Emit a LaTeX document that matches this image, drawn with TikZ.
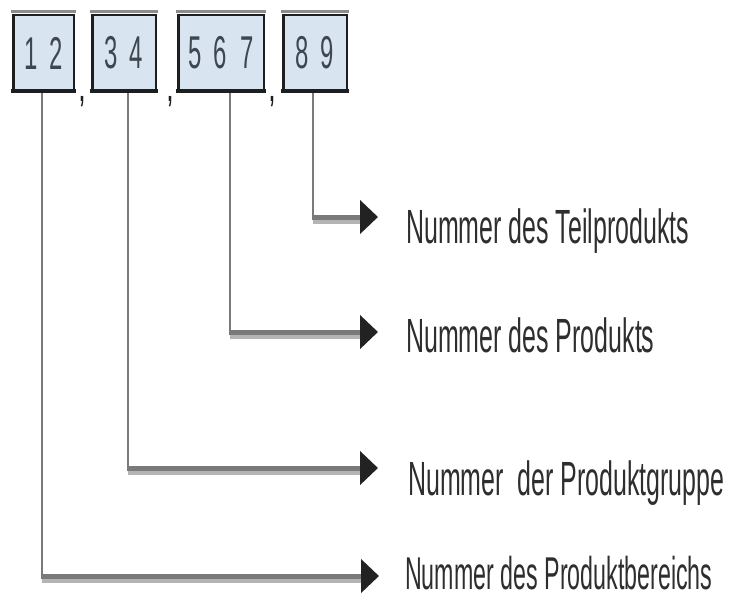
\documentclass[tikz,border=0pt]{standalone}
\usepackage{fontspec}
\setmainfont{Liberation Sans}
\newfontfamily\narrowfont[FakeStretch=0.52]{Liberation Sans}
\newfontfamily\narrowerfont[FakeStretch=0.505]{Liberation Sans}
\usetikzlibrary{arrows.meta}
\definecolor{boxfill}{HTML}{D8E4F0}
\definecolor{boxline}{HTML}{1E1E1E}
\definecolor{topband}{HTML}{8C8C8C}
\definecolor{digitcol}{HTML}{3E4650}
\definecolor{labelcol}{HTML}{2E2E2E}
\definecolor{linegray}{HTML}{7A7A7A}
\definecolor{shadegray}{HTML}{B4B4B4}
\definecolor{tipdark}{HTML}{222222}
\begin{document}
\begin{tikzpicture}[x=1pt,y=-1pt,
  digitbox/.style={draw=boxline, line width=2.5pt, fill=boxfill,
    minimum height=76pt, inner sep=0pt, text=digitcol,
    font=\narrowfont\fontsize{46}{46}\selectfont},
  topedge/.style={draw=topband, line width=3.5pt},
  bottomedge/.style={draw=boxline, line width=4pt},
  vline/.style={draw=linegray, line width=2.5pt},
  hline/.style={draw=linegray, line width=5pt,
    -{Triangle[length=18pt,width=33pt,color=tipdark]}},
  hshade/.style={draw=shadegray, line width=4pt},
  lbl/.style={inner sep=0pt, text=labelcol,
    font=\narrowfont\fontsize{48}{48}\selectfont},
  comma/.style={inner sep=0pt, text=boxline,
    font=\narrowfont\bfseries\fontsize{34}{34}\selectfont}]
\useasboundingbox (0,0) rectangle (738,598);

% number fields
\node[digitbox, minimum width=60.5pt] (b1) at (43.5,53) {\raisebox{-3pt}{1\hspace{12pt}2}};
\node[digitbox, minimum width=63.5pt] (b2) at (124,53) {\raisebox{-3pt}{3\hspace{12pt}4}};
\node[digitbox, minimum width=85.5pt] (b3) at (221,53) {\raisebox{-3pt}{5\hspace{12pt}6\hspace{14pt}7}};
\node[digitbox, minimum width=63.5pt] (b4) at (315,53) {\raisebox{-3pt}{8\hspace{12pt}9}};
\foreach \b in {b1,b2,b3,b4}{
  \draw[topedge] ([xshift=-1.25pt,yshift=2.25pt]\b.north west) -- ([xshift=1.25pt,yshift=2.25pt]\b.north east);
  \draw[bottomedge] ([xshift=-1.25pt,yshift=1pt]\b.south west) -- ([xshift=1.25pt,yshift=1pt]\b.south east);
}

% separators
\node[comma] (s1) at (82,102) {,};
\node[comma] (s2) at (170,102) {,};
\node[comma] (s3) at (272,102) {,};

% labels
\node[lbl, anchor=base west] (l4) at (406,243) {Nummer des Teilprodukts};
\node[lbl, anchor=base west] (l3) at (406,352) {Nummer des Produkts};
\node[lbl, anchor=base west] (l2) at (408,495) {Nummer\ \ der Produktgruppe};
\node[lbl, anchor=base west, font=\narrowerfont\fontsize{46}{46}\selectfont] (l1) at (405,589) {Nummer des Produktbereichs};

% arrow tips
\coordinate (a4) at (378,217);
\coordinate (a3) at (378,332);
\coordinate (a2) at (378,468);
\coordinate (a1) at (379,576);

% corners below the fields
\coordinate (k4) at ([xshift=-2pt]b4.south |- a4);
\coordinate (k3) at ([xshift=9pt]b3.south |- a3);
\coordinate (k2) at ([xshift=4pt]b2.south |- a2);
\coordinate (k1) at ([xshift=-1.5pt]b1.south |- a1);

% leader lines
\draw[vline] ([xshift=-2pt,yshift=-1pt]b4.south) -- (k4);
\draw[vline] ([xshift=9pt,yshift=-1pt]b3.south) -- (k3);
\draw[vline] ([xshift=4pt,yshift=-1pt]b2.south) -- (k2);
\draw[vline] ([xshift=-1.5pt,yshift=-1pt]b1.south) -- (k1);

\foreach \i in {1,2,3,4}{
  \draw[hshade] ([yshift=-4.5pt]k\i) -- ([xshift=-18pt,yshift=-4.5pt]a\i);
  \draw[hline] ([xshift=-1.25pt]k\i) -- (a\i);
}
\end{tikzpicture}
\end{document}
